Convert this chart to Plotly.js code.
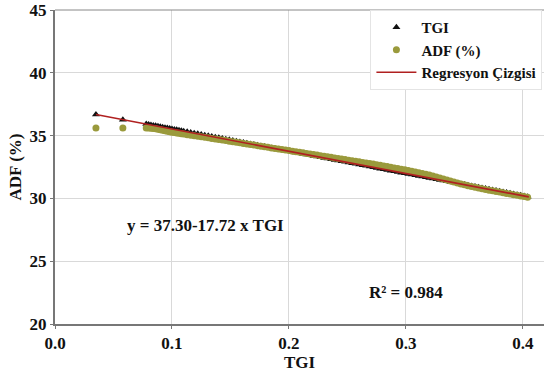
<!DOCTYPE html>
<html>
<head>
<meta charset="utf-8">
<script src="https://cdn.plot.ly/plotly-3.0.1.min.js"></script>
<style>html,body{margin:0;padding:0;background:#fff;}#chart{width:544px;height:372px;}</style>
</head>
<body>
<div id="chart"></div>
<script>
const tgi = [0.035,0.058,0.078,0.080,0.082,0.084,0.086,0.088,0.090,0.092,0.094,0.096,0.098,0.100,0.102,0.104,0.106,0.108,0.110,0.113,0.116,0.119,0.122,0.125,0.128,0.131,0.134,0.137,0.140,0.143,0.146,0.149,0.152,0.155,0.158,0.161,0.164,0.167,0.170,0.173,0.176,0.179,0.182,0.185,0.188,0.191,0.194,0.197,0.200,0.203,0.206,0.209,0.212,0.215,0.218,0.221,0.224,0.227,0.230,0.233,0.236,0.239,0.242,0.245,0.248,0.251,0.254,0.257,0.260,0.263,0.266,0.269,0.272,0.275,0.278,0.281,0.284,0.287,0.290,0.293,0.296,0.299,0.302,0.305,0.308,0.311,0.314,0.317,0.320,0.323,0.326,0.329,0.332,0.335,0.338,0.341,0.344,0.347,0.350,0.353,0.356,0.359,0.362,0.365,0.368,0.371,0.374,0.377,0.380,0.383,0.386,0.389,0.392,0.395,0.398,0.401,0.404];
const tgiY = [36.68,36.27,35.92,35.88,35.85,35.81,35.78,35.74,35.71,35.67,35.63,35.60,35.56,35.53,35.49,35.46,35.42,35.39,35.35,35.30,35.24,35.19,35.14,35.09,35.03,34.98,34.93,34.87,34.82,34.77,34.71,34.66,34.61,34.55,34.50,34.45,34.39,34.34,34.29,34.23,34.18,34.13,34.08,34.02,33.97,33.92,33.86,33.81,33.76,33.70,33.65,33.60,33.54,33.49,33.44,33.38,33.33,33.28,33.22,33.17,33.12,33.06,33.01,32.96,32.91,32.85,32.80,32.75,32.69,32.64,32.59,32.53,32.48,32.43,32.37,32.32,32.27,32.21,32.16,32.11,32.05,32.00,31.95,31.90,31.84,31.79,31.74,31.68,31.63,31.58,31.52,31.47,31.42,31.36,31.31,31.26,31.20,31.15,31.10,31.05,30.99,30.94,30.89,30.83,30.78,30.73,30.67,30.62,30.57,30.51,30.46,30.41,30.35,30.30,30.25,30.19,30.14];
const adf = [35.60,35.60,35.60,35.60,35.58,35.56,35.54,35.50,35.46,35.42,35.38,35.34,35.30,35.27,35.24,35.21,35.18,35.15,35.12,35.07,35.02,34.98,34.94,34.90,34.86,34.82,34.77,34.73,34.69,34.65,34.61,34.56,34.52,34.47,34.43,34.38,34.34,34.29,34.25,34.20,34.16,34.11,34.07,34.02,33.98,33.94,33.89,33.85,33.81,33.76,33.72,33.67,33.63,33.58,33.54,33.49,33.45,33.40,33.36,33.31,33.27,33.22,33.18,33.13,33.09,33.04,33.00,32.95,32.91,32.86,32.82,32.77,32.73,32.68,32.63,32.58,32.53,32.48,32.43,32.38,32.33,32.28,32.22,32.16,32.11,32.05,31.99,31.93,31.86,31.79,31.71,31.63,31.55,31.47,31.39,31.31,31.23,31.15,31.08,31.01,30.95,30.89,30.83,30.77,30.71,30.65,30.60,30.55,30.50,30.45,30.40,30.35,30.30,30.25,30.20,30.15,30.10];
const regX = [0.035, 0.405];
const regY = [36.68, 30.12];
const xTicks = [0.0, 0.1, 0.2, 0.3, 0.4];
const xTickText = ['0.0','0.1','0.2','0.3','0.4'];
const yTicks = [20, 25, 30, 35, 40, 45];

const serif = '"Liberation Serif"';
const txt = {family: serif, size: 17, weight: 'bold', color: '#111'};
const data = [
  {x: tgi, y: tgiY, type: 'scatter', mode: 'markers', name: 'TGI',
   marker: {symbol: 'triangle-up', size: 7, color: '#111'}},
  {x: tgi, y: adf, type: 'scatter', mode: 'markers', name: 'ADF (%)',
   marker: {symbol: 'circle', size: 7, color: '#9a9a3c'}},
  {x: regX, y: regY, type: 'scatter', mode: 'lines', name: 'Regresyon Çizgisi',
   line: {color: '#b02020', width: 1.6}}
];
const layout = {
  width: 544, height: 372,
  margin: {l: 55, r: 0, t: 10, b: 48},
  paper_bgcolor: '#fff', plot_bgcolor: '#fff',
  font: {family: serif, color: '#111', weight: 'bold'},
  showlegend: true,
  legend: {x: 0.645, y: 1, xanchor: 'left', yanchor: 'top',
    bgcolor: '#fff', bordercolor: '#e4e4e4', borderwidth: 1,
    font: {family: serif, size: 15, color: '#111', weight: 'bold'},
    tracegroupgap: 0, itemwidth: 40, itemsizing: 'trace'},
  xaxis: {range: [0, 0.418], tickvals: xTicks, ticktext: xTickText,
    showgrid: true, gridcolor: '#d9d9d9', gridwidth: 1, zeroline: false,
    showline: true, linecolor: '#777', linewidth: 2,
    ticks: 'outside', ticklen: 3, tickcolor: '#777',
    tickfont: txt,
    title: {text: 'TGI', font: txt, standoff: 2}},
  yaxis: {range: [20, 45], tickvals: yTicks,
    showgrid: true, gridcolor: '#d9d9d9', gridwidth: 1, zeroline: false,
    showline: true, linecolor: '#777', linewidth: 2,
    ticks: 'outside', ticklen: 3, tickcolor: '#777',
    tickfont: txt,
    title: {text: 'ADF (%)', font: txt, standoff: 4}},
  shapes: [{type: 'line', xref: 'paper', yref: 'paper', x0: 0, x1: 1, y0: 1, y1: 1,
    line: {color: '#888', width: 1}}],
  annotations: [
    {x: 0.129, y: 27.88, xref: 'x', yref: 'y', text: 'y = 37.30-17.72 x TGI', showarrow: false, font: txt},
    {x: 0.300, y: 22.47, xref: 'x', yref: 'y', text: 'R² = 0.984', showarrow: false, font: txt}
  ]
};
Plotly.newPlot('chart', data, layout, {displayModeBar: false, staticPlot: true});
</script>
</body>
</html>
